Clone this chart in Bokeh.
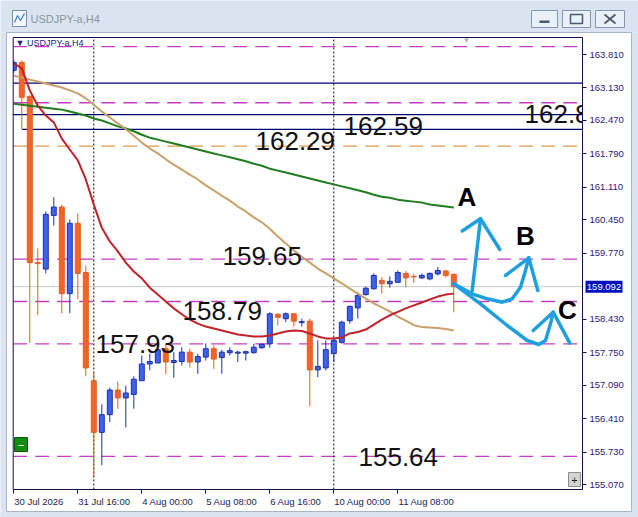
from bokeh.plotting import figure
from bokeh.models import ColumnDataSource, FixedTicker, PrintfTickFormatter, Range1d, LinearAxis
from bokeh.embed import file_html
from bokeh.resources import INLINE
from bokeh.core.properties import value

# ---------------- data (USDJPY-a, H4, bars from 30 Jul 2026 08:00) ----------------
open_ = [163.49, 163.65, 162.96, 159.58, 159.45, 160.54, 160.71, 158.95, 160.38, 159.38,
         157.18, 156.13, 156.49, 156.99, 156.83, 156.90, 157.18, 157.52, 157.54, 157.83,
         157.55, 157.57, 157.76, 157.56, 157.66, 157.83, 157.65, 157.75, 157.74, 157.74,
         157.75, 157.85, 157.93, 158.53, 158.44, 158.54, 158.36, 158.39, 157.40, 157.44,
         157.73, 157.96, 158.40, 158.66, 158.93, 159.05, 159.22, 159.15, 159.18, 159.36,
         159.30, 159.27, 159.25, 159.35, 159.41, 159.34]
high = [163.69, 163.69, 162.98, 159.87, 160.62, 160.91, 160.76, 160.46, 160.58, 159.52,
        157.35, 156.70, 157.04, 157.16, 157.08, 157.27, 157.69, 157.73, 157.86, 157.93,
        157.76, 157.86, 157.83, 157.73, 157.94, 157.90, 157.81, 157.86, 157.79, 157.79,
        157.93, 157.94, 158.57, 158.55, 158.57, 158.55, 158.44, 158.44, 158.00, 158.00,
        158.06, 158.40, 158.71, 158.98, 159.09, 159.36, 159.28, 159.30, 159.42, 159.41,
        159.35, 159.36, 159.38, 159.49, 159.43, 159.36]
low = [163.44, 162.29, 157.95, 158.51, 159.36, 160.33, 158.55, 158.55, 158.84, 157.27,
       155.22, 155.46, 156.34, 156.61, 156.23, 156.61, 157.18, 157.39, 157.54, 157.31,
       157.24, 157.49, 157.45, 157.32, 157.59, 157.42, 157.32, 157.69, 157.56, 157.59,
       157.73, 157.83, 157.85, 158.30, 158.37, 158.28, 158.28, 156.66, 157.25, 157.39,
       157.56, 157.93, 158.34, 158.44, 158.91, 159.03, 158.95, 159.07, 159.18, 159.08,
       159.17, 159.25, 159.22, 159.32, 159.28, 158.57]
close = [163.65, 162.94, 159.58, 159.56, 160.56, 160.71, 158.95, 160.38, 159.36, 157.44,
         156.13, 156.49, 156.99, 156.83, 156.93, 157.21, 157.52, 157.57, 157.81, 157.56,
         157.59, 157.76, 157.56, 157.67, 157.83, 157.62, 157.76, 157.79, 157.76, 157.77,
         157.86, 157.92, 158.54, 158.47, 158.54, 158.39, 158.38, 157.40, 157.47, 157.81,
         158.00, 158.37, 158.69, 158.91, 159.06, 159.32, 159.15, 159.20, 159.38, 159.27,
         159.29, 159.32, 159.36, 159.42, 159.32, 159.092]

ma_fast = [163.63, 163.53, 163.08, 162.77, 162.57, 162.43, 162.10, 161.88, 161.66, 161.27,
           160.76, 160.29, 160.01, 159.81, 159.58, 159.40, 159.26, 159.07, 158.93, 158.79,
           158.65, 158.53, 158.42, 158.34, 158.28, 158.24, 158.20, 158.16, 158.12, 158.10,
           158.08, 158.08, 158.10, 158.14, 158.18, 158.20, 158.19, 158.14, 158.08, 158.04,
           158.04, 158.06, 158.14, 158.17, 158.22, 158.32, 158.42, 158.51, 158.58, 158.65,
           158.71, 158.77, 158.83, 158.89, 158.93, 158.95]
ma_mid = [163.38, 163.34, 163.30, 163.26, 163.22, 163.18, 163.14, 163.08, 163.02, 162.92,
          162.79, 162.65, 162.53, 162.41, 162.29, 162.16, 162.02, 161.90, 161.80, 161.68,
          161.57, 161.47, 161.37, 161.27, 161.15, 161.05, 160.94, 160.84, 160.72, 160.62,
          160.50, 160.40, 160.27, 160.11, 159.97, 159.83, 159.70, 159.58, 159.46, 159.36,
          159.26, 159.16, 159.05, 158.95, 158.85, 158.75, 158.67, 158.59, 158.48, 158.40,
          158.31, 158.27, 158.26, 158.25, 158.23, 158.20]
ma_slow = [162.81, 162.79, 162.77, 162.75, 162.73, 162.71, 162.69, 162.65, 162.61, 162.57,
           162.51, 162.47, 162.41, 162.35, 162.31, 162.25, 162.18, 162.12, 162.08, 162.04,
           162.00, 161.96, 161.92, 161.88, 161.84, 161.80, 161.76, 161.72, 161.68, 161.64,
           161.59, 161.55, 161.49, 161.45, 161.41, 161.37, 161.33, 161.29, 161.25, 161.21,
           161.17, 161.13, 161.09, 161.05, 161.01, 160.96, 160.92, 160.90, 160.86, 160.84,
           160.82, 160.80, 160.76, 160.74, 160.72, 160.70]

x_tick_bars = [0, 8, 16, 24, 32, 40, 48]
x_tick_labels = ["30 Jul 2026", "31 Jul 16:00", "4 Aug 00:00", "5 Aug 08:00",
                 "6 Aug 16:00", "10 Aug 00:00", "11 Aug 08:00"]
week_start_bars = [10, 40]
y_ticks = [163.81, 163.13, 162.47, 161.79, 161.11, 160.45, 159.77,
           158.43, 157.75, 157.09, 156.41, 155.73, 155.07]
last_price = 159.092

magenta_levels = [163.97, 162.83, 159.65, 158.79, 157.93, 155.64]
navy_levels = [163.23, 162.59]
navy_short_level = 162.29
orange_level = 161.95
level_texts = ["162.29", "162.59", "162.83", "159.65", "158.79", "157.93", "155.64"]

# ---------------- canvas <-> data helpers (for decorations only) ----------------
W, H = 638, 517
X0, BAR_PX = 13.3, 8.0          # pixel of bar 0, pixels per bar
P0, PPX = 164.908, 0.020326     # price at pixel row 0, price per pixel


def bx(px):
    return (px - X0) / BAR_PX


def py(px):
    return P0 - PPX * px


L, R, T, B = bx(12.7), bx(582.0), py(37.0), py(489.0)

p = figure(width=W, height=H, output_backend="svg", toolbar_location=None,
           x_range=Range1d(bx(0), bx(W)), y_range=Range1d(py(H), py(0)),
           y_axis_location="right", min_border=0)
p.title.visible = False
p.background_fill_color = "white"
p.border_fill_color = "white"
p.outline_line_color = None
p.xgrid.visible = False
p.ygrid.visible = False

navy = "#101050"
AX_FONT = "9.5px"
yax = p.yaxis[0]
yax.fixed_location = R
yax.bounds = (B, T)
yax.ticker = FixedTicker(ticks=y_ticks)
yax.formatter = PrintfTickFormatter(format="%.3f")
yax.major_label_text_font = "Liberation Sans"
yax.major_label_text_font_size = AX_FONT
yax.major_label_text_color = "#1c1c78"
yax.axis_line_color = navy
yax.major_tick_line_color = navy
yax.major_tick_out = 4
yax.major_tick_in = 0
yax.minor_tick_line_color = None
yax.major_label_standoff = 3

# bottom axis: tick marks at the bar positions
xax = p.xaxis[0]
xax.fixed_location = B
xax.bounds = (L, R)
xax.ticker = FixedTicker(ticks=x_tick_bars)
xax.major_label_text_alpha = 0
xax.major_label_text_font_size = AX_FONT
xax.axis_line_color = navy
xax.major_tick_line_color = navy
xax.major_tick_out = 4
xax.major_tick_in = 0
xax.minor_tick_line_color = None
xax.major_label_standoff = 2

# labels start at their tick (terminal style): a second axis carries the texts,
# centred half a label-width to the right of each tick
CW = {c: 0.556 for c in "0123456789"}
CW.update({" ": 0.278, ":": 0.278, "J": 0.5, "u": 0.556, "l": 0.222, "A": 0.667, "g": 0.556})
font_px = 9.5
lab_pos = [round(b + sum(CW.get(c, 0.55) for c in t) * font_px / 2 / BAR_PX + 0.05, 4)
           for b, t in zip(x_tick_bars, x_tick_labels)]
lab_ax = LinearAxis(fixed_location=B, ticker=FixedTicker(ticks=lab_pos),
                    major_label_overrides={v: t for v, t in zip(lab_pos, x_tick_labels)},
                    axis_line_color=None, major_tick_line_color=None,
                    minor_tick_line_color=None, major_tick_out=4, major_tick_in=0,
                    major_label_standoff=2, major_label_text_font="Liberation Sans",
                    major_label_text_font_size=AX_FONT, major_label_text_color="#1c1c50")
p.add_layout(lab_ax, "below")

# ---------------- horizontal levels / separators ----------------
p.segment(x0=[L] * len(magenta_levels), y0=magenta_levels, x1=[R] * len(magenta_levels),
          y1=magenta_levels, line_color="#c23ec2", line_dash="14 8", line_width=1.3)
p.segment(x0=[L] * len(navy_levels), y0=navy_levels, x1=[R] * len(navy_levels),
          y1=navy_levels, line_color="#000070", line_width=1.2)
p.segment(x0=[1.05], y0=[navy_short_level], x1=[R], y1=[navy_short_level],
          line_color="#000070", line_width=1.2)
p.segment(x0=[L], y0=[orange_level], x1=[R], y1=[orange_level],
          line_color="#d99a55", line_dash="14 8", line_width=1.3)
p.segment(x0=[L], y0=[last_price], x1=[R], y1=[last_price],
          line_color="#c8c8c8", line_width=1)
p.segment(x0=week_start_bars, y0=[B] * 2, x1=week_start_bars, y1=[T] * 2,
          line_color="#000000", line_dash="2 2", line_width=1)

# ---------------- candles ----------------
bars = list(range(len(close)))
up = [i for i in bars if close[i] >= open_[i]]
dn = [i for i in bars if close[i] < open_[i]]


def src(idx):
    return ColumnDataSource(dict(
        x=idx,
        high=[high[i] for i in idx], low=[low[i] for i in idx],
        top=[max(open_[i], close[i]) for i in idx],
        bottom=[min(open_[i], close[i]) for i in idx]))


su, sd = src(up), src(dn)
p.segment(x0="x", y0="low", x1="x", y1="high", source=su, line_color="#1c2fa8", line_width=1)
p.segment(x0="x", y0="low", x1="x", y1="high", source=sd, line_color="#e25c22", line_width=1)
p.vbar(x="x", top="top", bottom="bottom", width=0.62, source=su,
       fill_color="#3f63e8", line_color="#1c2fa8", line_width=1)
p.vbar(x="x", top="top", bottom="bottom", width=0.62, source=sd,
       fill_color="#f2642a", line_color="#e25c22", line_width=1)

# ---------------- moving averages ----------------
p.line(bars, ma_slow, line_color="#1f7d1f", line_width=2)
p.line(bars, ma_mid, line_color="#c9a06a", line_width=2)
p.line(bars, ma_fast, line_color="#c0222a", line_width=2)

# ---------------- level texts ----------------
txt_x = [bx(255), bx(343), bx(524), bx(222), bx(182), bx(95), bx(358)]
txt_y = [py(140), py(125), py(113), py(255), py(310), py(343), py(456)]
p.text(x=txt_x, y=txt_y, text=level_texts, text_font=value("Liberation Sans"),
       text_font_size="26px", text_color="#111111", text_baseline="middle",
       text_align="left")

# ---------------- hand-drawn scenario arrows ----------------
blue = "#1f9fdf"
arrow_px = [
    [(471.7, 290), (480, 218.3)],
    [(461.7, 230.5), (480, 218.3), (499.3, 249)],
    [(453.3, 283.3), (471.7, 293.3), (486.7, 298.3), (501.7, 301.7), (511.7, 298.3),
     (520, 286.7), (525, 270), (528.3, 257.3)],
    [(505, 275), (528.3, 257.3), (537.3, 290)],
    [(453.3, 283.3), (480, 303.3), (506.7, 325), (526.7, 340), (538.3, 344),
     (545, 340), (550, 323.3), (552.7, 311.7)],
    [(532.7, 330), (552.7, 311.7), (569.3, 342.7)],
]
for path in arrow_px:
    p.line([bx(a) for a, _ in path], [py(b) for _, b in path], line_color=blue,
           line_width=3.5, line_join="round", line_cap="round")

p.text(x=[bx(466.5), bx(525), bx(567)], y=[py(196.5), py(235), py(309)],
       text=["A", "B", "C"], text_font=value("Liberation Sans"), text_font_style="bold",
       text_font_size="26px", text_color="#000000", text_align="center",
       text_baseline="middle")

# ---------------- masks outside the chart frame ----------------
p.quad(left=[bx(-2), bx(582.5)], right=[bx(12.5), bx(W + 2)],
       bottom=[py(H + 2), py(H + 2)], top=[py(-2), py(-2)],
       fill_color="white", line_color=None)

# frame border (left and top; right and bottom are the axes)
p.segment(x0=[L, L], y0=[B, T], x1=[L, R], y1=[T, T], line_color=navy, line_width=1)

# ---------------- terminal decorations ----------------
p.text(x=[bx(15)], y=[py(42)], text=["\u25bc USDJPY-a,H4"], text_font=value("Liberation Sans"),
       text_font_size="9px", text_color="#202080", text_baseline="middle")
p.text(x=[bx(466)], y=[py(40)], text=["\u25bc"], text_font_size="8px",
       text_color="#a9b5c6", text_align="center", text_baseline="middle")

# price tag on the axis
p.quad(left=[bx(585)], right=[bx(622)], top=[last_price + 6 * PPX],
       bottom=[last_price - 6 * PPX], fill_color="#0010c0", line_color=None)
p.text(x=[bx(603.5)], y=[last_price], text=["159.092"], text_font=value("Liberation Sans"),
       text_font_size="9.5px", text_color="white", text_align="center",
       text_baseline="middle")

# chart corner buttons
p.quad(left=[bx(14), bx(568)], right=[bx(27), bx(580)], top=[py(437), py(472)],
       bottom=[py(451), py(486)], fill_color=["#148c14", "#d4d4d4"],
       line_color=["#0a5a0a", "#8c8c8c"])
p.text(x=[bx(20.5), bx(574)], y=[py(444), py(479)], text=["\u2212", "+"],
       text_font_size="11px", text_color=["white", "#222222"], text_align="center",
       text_baseline="middle")

# window chrome: title bar and borders
chrome = "#d9e4f0"
p.quad(left=[bx(-2), bx(-2), bx(631), bx(-2)], right=[bx(W + 2), bx(6), bx(W + 2), bx(W + 2)],
       top=[py(-2), py(32), py(32), py(511)], bottom=[py(32), py(H + 2), py(H + 2), py(H + 2)],
       fill_color=chrome, line_color=None)
p.quad(left=[bx(6)], right=[bx(631)], top=[py(32)], bottom=[py(511)],
       fill_color=None, line_color="#a7b4c4", line_width=1)
# title icon + text
p.quad(left=[bx(12)], right=[bx(26)], top=[py(10)], bottom=[py(26)],
       fill_color="#f3f7fc", line_color="#6f8fb5")
p.line([bx(14), bx(17), bx(20), bx(24)], [py(22), py(15), py(20), py(13)],
       line_color="#2f7fd0", line_width=1.2)
p.text(x=[bx(30)], y=[py(18)], text=["USDJPY-a,H4"], text_font=value("Liberation Sans"),
       text_font_size="11px", text_color="#8b949f", text_baseline="middle")
# window buttons
p.quad(left=[bx(531), bx(562), bx(595)], right=[bx(557), bx(590), bx(624)],
       top=[py(10)] * 3, bottom=[py(27)] * 3, fill_color="#eaf0f7", line_color="#8797ab")
p.quad(left=[bx(539)], right=[bx(549)], top=[py(20)], bottom=[py(22.5)],
       fill_color="#4b5a6e", line_color=None)
p.quad(left=[bx(570)], right=[bx(582)], top=[py(14)], bottom=[py(23)],
       fill_color=None, line_color="#4b5a6e", line_width=1.5)
p.segment(x0=[bx(604), bx(604)], y0=[py(14), py(23)], x1=[bx(615), bx(615)],
          y1=[py(23), py(14)], line_color="#4b5a6e", line_width=1.8)

open("out.html", "w").write(file_html(p, INLINE))
